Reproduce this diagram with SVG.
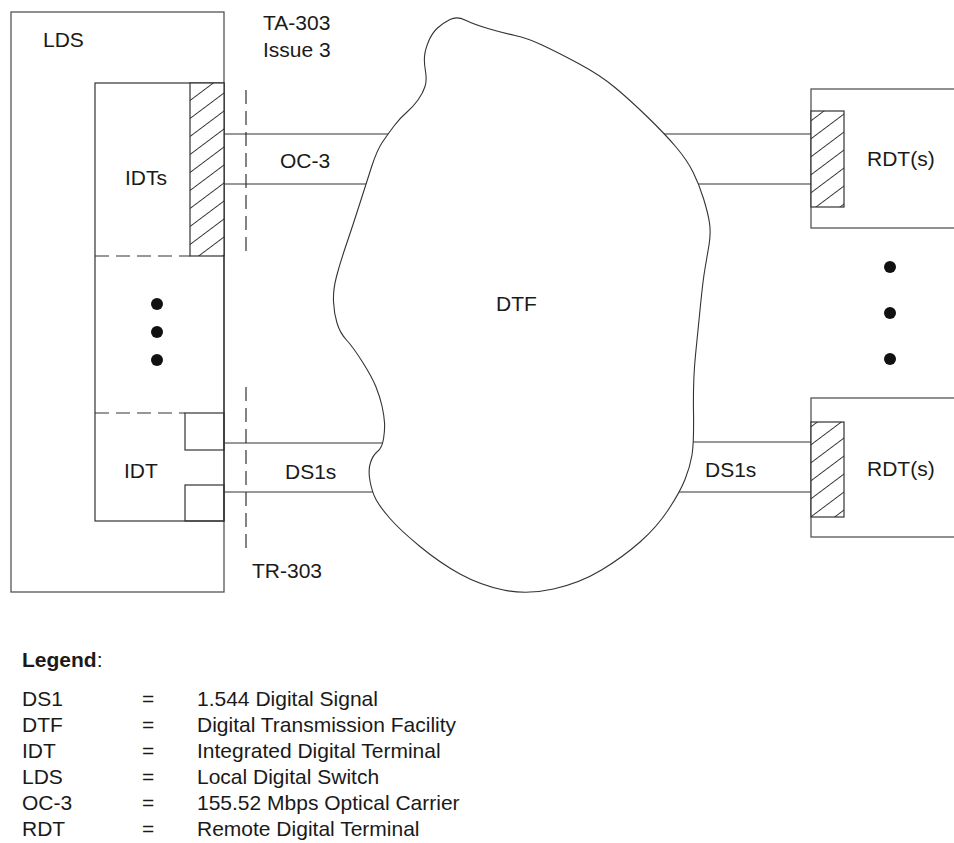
<svg xmlns="http://www.w3.org/2000/svg" width="954" height="843" viewBox="0 0 954 843">
<style>
.box{fill:none;stroke:#555;stroke-width:1.3}
.ln{fill:none;stroke:#333;stroke-width:1.2}
.dash{fill:none;stroke:#333;stroke-width:1.2;stroke-dasharray:14,7}
.hatch{fill:url(#hp);stroke:#333;stroke-width:1.2}
.t{font-family:"Liberation Sans",Arial,sans-serif;font-size:21px;fill:#1a1a1a}
.dot{fill:#111}
</style>
<defs>
<pattern id="hp" patternUnits="userSpaceOnUse" width="10" height="14.4" patternTransform="rotate(-36.87)">
<rect width="10" height="14.4" fill="#fff"/>
<line x1="-1" y1="7.2" x2="11" y2="7.2" stroke="#333" stroke-width="1"/>
</pattern>
</defs>
<rect width="954" height="843" fill="#fff"/>

<g id="connectors">
<line class="ln" x1="224" y1="134" x2="400" y2="134"/>
<line class="ln" x1="224" y1="184" x2="380" y2="184"/>
<line class="ln" x1="650" y1="134" x2="811" y2="134"/>
<line class="ln" x1="690" y1="184" x2="811" y2="184"/>
<line class="ln" x1="224" y1="443" x2="395" y2="443"/>
<line class="ln" x1="224" y1="492" x2="385" y2="492"/>
<line class="ln" x1="680" y1="442" x2="811" y2="442"/>
<line class="ln" x1="670" y1="492" x2="811" y2="492"/>
<line class="dash" x1="246" y1="90" x2="246" y2="256"/>
<line class="dash" x1="246" y1="387" x2="246" y2="551"/>
</g>

<g id="lds">
<rect class="box" x="11" y="12" width="213" height="580"/>
<text class="t" x="43" y="47">LDS</text>
</g>

<g id="idts">
<rect class="ln" x="95" y="83" width="129" height="438"/>
<rect class="hatch" x="190" y="83" width="34" height="173"/>
<line class="dash" x1="95" y1="256" x2="190" y2="256"/>
<text class="t" x="125" y="185">IDTs</text>
<circle class="dot" cx="157" cy="304" r="6"/>
<circle class="dot" cx="157" cy="332" r="6"/>
<circle class="dot" cx="157" cy="360" r="6"/>
</g>

<g id="idt">
<line class="dash" x1="95" y1="413" x2="185" y2="413"/>
<rect class="ln" x="185" y="413" width="39" height="37"/>
<rect class="ln" x="185" y="485" width="39" height="36"/>
<text class="t" x="124" y="478">IDT</text>
</g>

<g id="dtf">
<path fill="#fff" stroke="#333" stroke-width="1.1" d="M 465,20 Q 473,24 488,28.5 Q 503,33 515,35.5 Q 527,38 542,45 Q 557,52 578.5,63.5 Q 600,75 615,87.5 Q 630,100 647.5,117 Q 665,134 676,147 Q 687,160 693,172 Q 699,184 703.5,198.5 Q 708,213 709.5,223 Q 711,233 709,245 Q 707,257 705,268.5 Q 703,280 700.5,305 Q 698,330 695.5,355 Q 693,380 693.5,411.5 Q 694,443 692,455 Q 690,467 685,479.5 Q 680,492 668.5,509.5 Q 657,527 640,542 Q 623,557 601.5,570 Q 580,583 553.5,589 Q 527,595 503.5,590 Q 480,585 460,574 Q 440,563 420,546.5 Q 400,530 390,518.5 Q 380,507 376,499.5 Q 372,492 370,481 Q 368,470 370.5,462.5 Q 373,455 377.5,451.5 Q 382,448 383.5,439 Q 385,430 384.5,422.5 Q 384,415 382,406 Q 380,397 376,387 Q 372,377 362.5,362 Q 353,347 346.5,340 Q 340,333 337,323 Q 334,313 333.5,301.5 Q 333,290 336.5,276.5 Q 340,263 346.5,244 Q 353,225 359.5,204.5 Q 366,184 371.5,167 Q 377,150 382.5,142 Q 388,134 394,126 Q 400,118 406.5,112.5 Q 413,107 418,100 Q 423,93 425,86.5 Q 427,80 425.5,71.5 Q 424,63 424.5,56.5 Q 425,50 428.5,41.5 Q 432,33 437.5,28 Q 443,23 450,19.5 Q 457,16 465,20 Z"/>
<text class="t" x="496" y="311">DTF</text>
</g>

<g id="rdt1">
<rect class="box" x="811" y="89" width="160" height="139"/>
<rect class="hatch" x="811" y="111" width="33" height="96"/>
<text class="t" x="867" y="166">RDT(s)</text>
</g>

<g id="rdt-dots">
<circle class="dot" cx="890" cy="267" r="6"/>
<circle class="dot" cx="890" cy="313" r="6"/>
<circle class="dot" cx="890" cy="359" r="6"/>
</g>

<g id="rdt2">
<rect class="box" x="811" y="398" width="160" height="139"/>
<rect class="hatch" x="811" y="422" width="33" height="95"/>
<text class="t" x="867" y="476">RDT(s)</text>
</g>

<g id="labels">
<text class="t" x="263" y="30">TA-303</text>
<text class="t" x="263" y="57">Issue 3</text>
<text class="t" x="280" y="168">OC-3</text>
<text class="t" x="285" y="479">DS1s</text>
<text class="t" x="705" y="477">DS1s</text>
<text class="t" x="252" y="578">TR-303</text>
</g>

<g id="legend" class="t">
<text x="22" y="667"><tspan font-weight="bold">Legend</tspan>:</text>
<text x="22" y="706">DS1</text><text x="142" y="706">=</text><text x="197" y="706">1.544 Digital Signal</text>
<text x="22" y="732">DTF</text><text x="142" y="732">=</text><text x="197" y="732">Digital Transmission Facility</text>
<text x="22" y="758">IDT</text><text x="142" y="758">=</text><text x="197" y="758">Integrated Digital Terminal</text>
<text x="22" y="784">LDS</text><text x="142" y="784">=</text><text x="197" y="784">Local Digital Switch</text>
<text x="22" y="810">OC-3</text><text x="142" y="810">=</text><text x="197" y="810">155.52 Mbps Optical Carrier</text>
<text x="22" y="836">RDT</text><text x="142" y="836">=</text><text x="197" y="836">Remote Digital Terminal</text>
</g>
</svg>
